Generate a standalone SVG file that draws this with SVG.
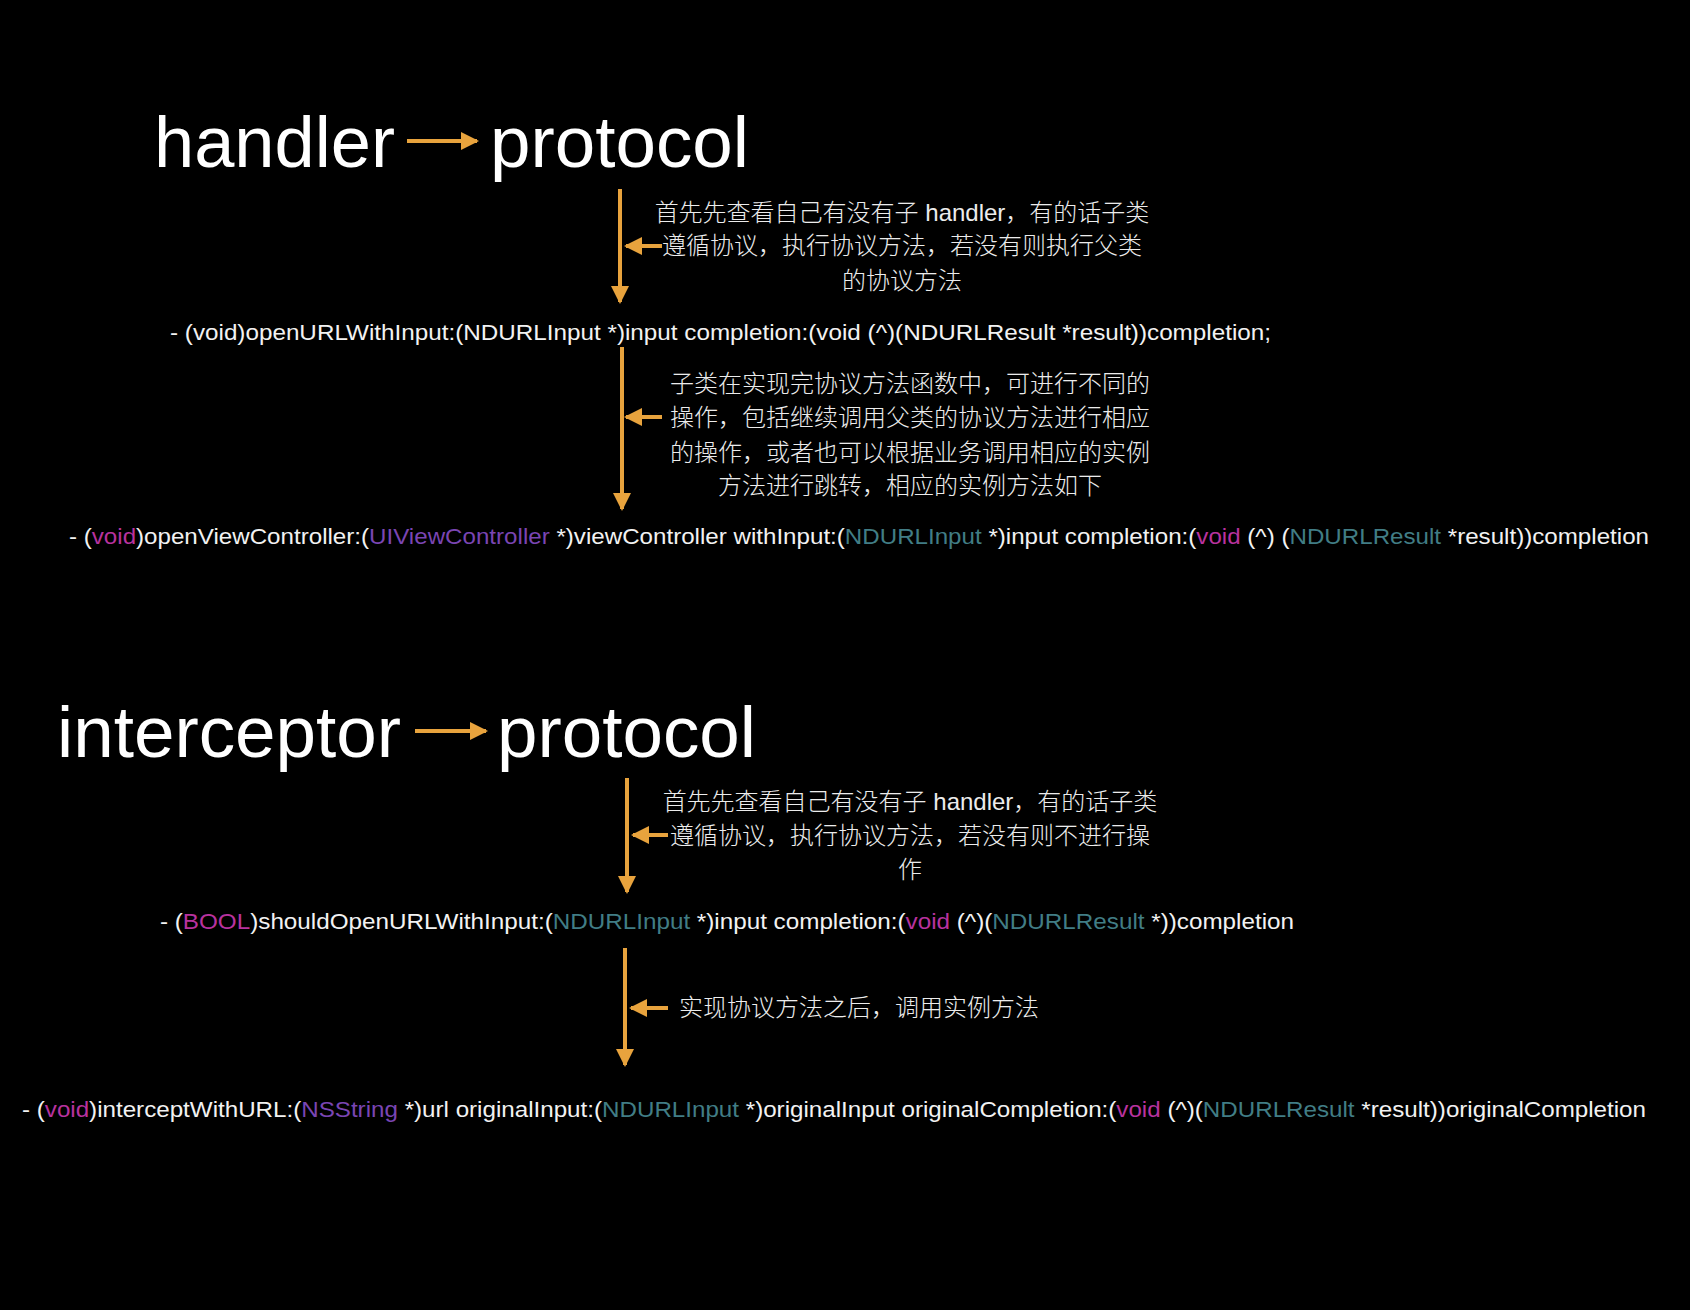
<svg xmlns="http://www.w3.org/2000/svg" width="1690" height="1310" viewBox="0 0 1690 1310">
<defs>
<style>
.title{font-family:"Liberation Sans","Noto Sans CJK SC",sans-serif;font-size:72px;fill:#ffffff;font-weight:300}
.note{font-family:"Liberation Sans","Noto Sans CJK SC",sans-serif;font-size:24px;fill:#ececec;text-anchor:middle;font-weight:300}
.code{font-family:"Liberation Sans","Noto Sans CJK SC",sans-serif;font-size:22px;fill:#f2f2f2}
.kw{fill:#b8329e}
.cls{fill:#7a45b3}
.typ{fill:#417d85}
.line{stroke:#e8a33d;stroke-width:4;fill:none}
</style>
<marker id="ah" markerUnits="userSpaceOnUse" markerWidth="18" markerHeight="18" viewBox="0 0 18 18" refX="16" refY="9" orient="auto">
<polygon points="0,0 18,9 0,18" fill="#e8a33d"/>
</marker>
</defs>
<rect width="1690" height="1310" fill="#000000"/>

<g id="connectors">
<line class="line" x1="407" y1="141" x2="477" y2="141" marker-end="url(#ah)"/>
<line class="line" x1="620" y1="189" x2="620" y2="302" marker-end="url(#ah)"/>
<line class="line" x1="662" y1="246" x2="626" y2="246" marker-end="url(#ah)"/>
<line class="line" x1="622" y1="347" x2="622" y2="509" marker-end="url(#ah)"/>
<line class="line" x1="662" y1="417" x2="626" y2="417" marker-end="url(#ah)"/>
<line class="line" x1="415" y1="731" x2="486" y2="731" marker-end="url(#ah)"/>
<line class="line" x1="627" y1="778" x2="627" y2="892" marker-end="url(#ah)"/>
<line class="line" x1="668" y1="835" x2="633" y2="835" marker-end="url(#ah)"/>
<line class="line" x1="625" y1="948" x2="625" y2="1065" marker-end="url(#ah)"/>
<line class="line" x1="668" y1="1008" x2="631" y2="1008" marker-end="url(#ah)"/>
</g>

<g id="title-handler">
<text class="title" x="154" y="167" textLength="241" lengthAdjust="spacingAndGlyphs">handler</text>
</g>
<g id="title-handler-protocol">
<text class="title" x="490" y="167" textLength="259" lengthAdjust="spacingAndGlyphs">protocol</text>
</g>

<g id="note-1">
<text class="note" x="902" y="221">首先先查看自己有没有子 handler，有的话子类</text>
<text class="note" x="902" y="254">遵循协议，执行协议方法，若没有则执行父类</text>
<text class="note" x="902" y="289">的协议方法</text>
</g>

<g id="code-openURL">
<text class="code" x="170" y="340" textLength="1101" lengthAdjust="spacingAndGlyphs">- (void)openURLWithInput:(NDURLInput *)input completion:(void (^)(NDURLResult *result))completion;</text>
</g>

<g id="note-2">
<text class="note" x="910" y="392">子类在实现完协议方法函数中，可进行不同的</text>
<text class="note" x="910" y="426">操作，包括继续调用父类的协议方法进行相应</text>
<text class="note" x="910" y="461">的操作，或者也可以根据业务调用相应的实例</text>
<text class="note" x="910" y="494">方法进行跳转，相应的实例方法如下</text>
</g>

<g id="code-openViewController">
<text class="code" x="69" y="544" textLength="1580" lengthAdjust="spacingAndGlyphs">- (<tspan class="kw">void</tspan>)openViewController:(<tspan class="cls">UIViewController</tspan> *)viewController withInput:(<tspan class="typ">NDURLInput</tspan> *)input completion:(<tspan class="kw">void</tspan> (^) (<tspan class="typ">NDURLResult</tspan> *result))completion</text>
</g>

<g id="title-interceptor">
<text class="title" x="57" y="757" textLength="344" lengthAdjust="spacingAndGlyphs">interceptor</text>
</g>
<g id="title-interceptor-protocol">
<text class="title" x="497" y="757" textLength="259" lengthAdjust="spacingAndGlyphs">protocol</text>
</g>

<g id="note-3">
<text class="note" x="910" y="810">首先先查看自己有没有子 handler，有的话子类</text>
<text class="note" x="910" y="844">遵循协议，执行协议方法，若没有则不进行操</text>
<text class="note" x="910" y="878">作</text>
</g>

<g id="code-shouldOpenURL">
<text class="code" x="160" y="929" textLength="1134" lengthAdjust="spacingAndGlyphs">- (<tspan class="kw">BOOL</tspan>)shouldOpenURLWithInput:(<tspan class="typ">NDURLInput</tspan> *)input completion:(<tspan class="kw">void</tspan> (^)(<tspan class="typ">NDURLResult</tspan> *))completion</text>
</g>

<g id="note-4">
<text class="note" x="859" y="1016">实现协议方法之后，调用实例方法</text>
</g>

<g id="code-intercept">
<text class="code" x="22" y="1117" textLength="1624" lengthAdjust="spacingAndGlyphs">- (<tspan class="kw">void</tspan>)interceptWithURL:(<tspan class="cls">NSString</tspan> *)url originalInput:(<tspan class="typ">NDURLInput</tspan> *)originalInput originalCompletion:(<tspan class="kw">void</tspan> (^)(<tspan class="typ">NDURLResult</tspan> *result))originalCompletion</text>
</g>
</svg>
